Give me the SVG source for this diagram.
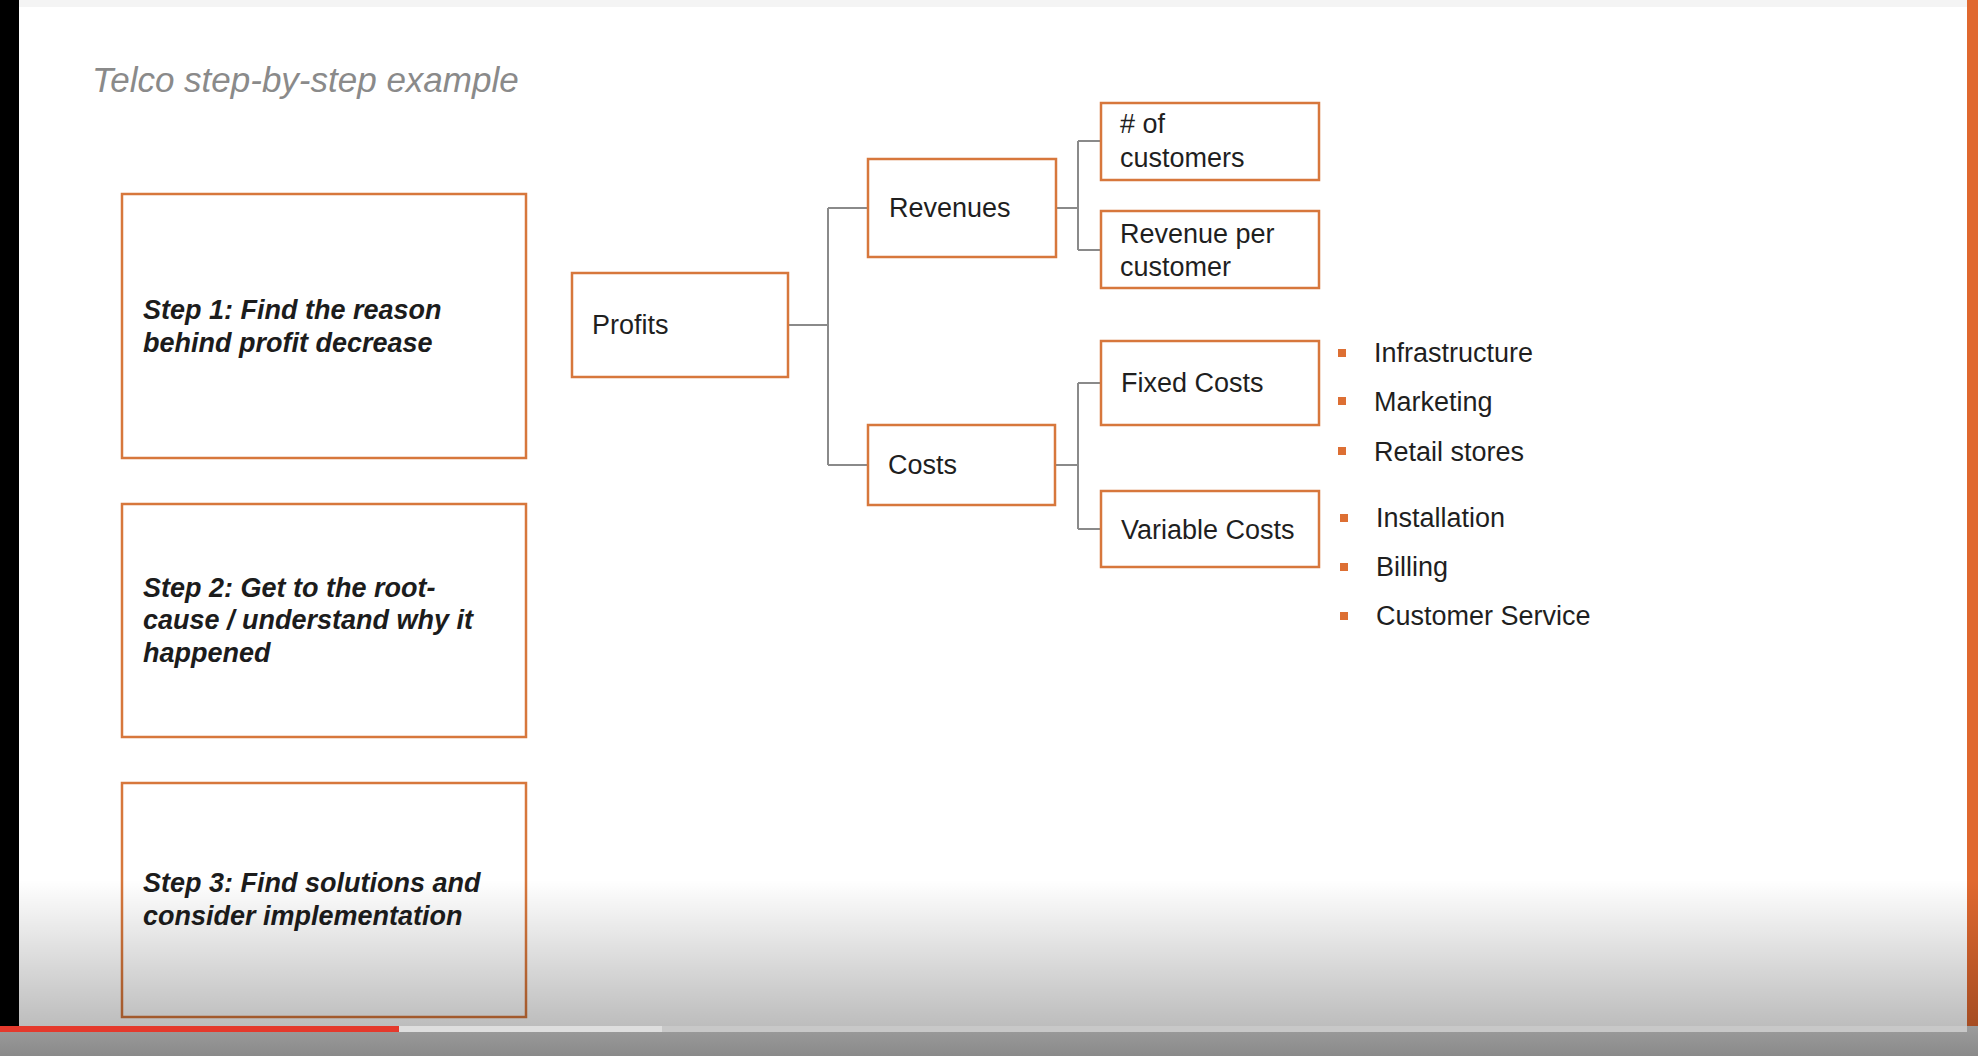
<svg xmlns="http://www.w3.org/2000/svg" width="1978" height="1056" viewBox="0 0 1978 1056">
<defs>
<style>
.box{fill:#ffffff;stroke:#d7773c;stroke-width:2.5}
.step{font-family:"Liberation Sans",Arial,sans-serif;font-size:27px;font-weight:bold;font-style:italic;fill:#1c1c1c}
.lbl{font-family:"Liberation Sans",Arial,sans-serif;font-size:27px;fill:#1f1f1f}
.conn{fill:none;stroke:#8a8a8a;stroke-width:2}
.bul{fill:#dd6f33}
</style>
<linearGradient id="shade" x1="0" y1="0" x2="0" y2="1">
<stop offset="0" stop-color="#000" stop-opacity="0"/>
<stop offset="1" stop-color="#000" stop-opacity="0.26"/>
</linearGradient>
<linearGradient id="bottom" x1="0" y1="0" x2="0" y2="1">
<stop offset="0" stop-color="#9c9c9c"/>
<stop offset="1" stop-color="#8a8a8a"/>
</linearGradient>
</defs>
<rect x="0" y="0" width="1978" height="1056" fill="#ffffff"/>
<rect x="0" y="0" width="1978" height="7" fill="#f4f4f4"/>
<text x="92" y="92" font-family="Liberation Sans, Arial, sans-serif" font-size="35" font-style="italic" fill="#8a8a8a">Telco step-by-step example</text>

<g id="step1"><rect class="box" x="122" y="194" width="404" height="264"/>
<text class="step" x="143" y="319">Step 1: Find the reason</text>
<text class="step" x="143" y="352">behind profit decrease</text></g>
<g id="step2"><rect class="box" x="122" y="504" width="404" height="233"/>
<text class="step" x="143" y="597">Step 2: Get to the root-</text>
<text class="step" x="143" y="629">cause / understand why it</text>
<text class="step" x="143" y="662">happened</text></g>
<g id="step3"><rect class="box" x="122" y="783" width="404" height="234"/>
<text class="step" x="143" y="892">Step 3: Find solutions and</text>
<text class="step" x="143" y="925">consider implementation</text></g>

<g id="connectors">
<path class="conn" d="M788 325 H828 M828 208 V465 M828 208 H868 M828 465 H868"/>
<path class="conn" d="M1056 208 H1078 M1078 141 V250 M1078 141 H1101 M1078 250 H1101"/>
<path class="conn" d="M1055 465 H1078 M1078 383 V529 M1078 383 H1101 M1078 529 H1101"/>
</g>

<g id="profits"><rect class="box" x="572" y="273" width="216" height="104"/>
<text class="lbl" x="592" y="334">Profits</text></g>
<g id="revenues"><rect class="box" x="868" y="159" width="188" height="98"/>
<text class="lbl" x="889" y="217">Revenues</text></g>
<g id="costs"><rect class="box" x="868" y="425" width="187" height="80"/>
<text class="lbl" x="888" y="474">Costs</text></g>
<g id="customers"><rect class="box" x="1101" y="103" width="218" height="77"/>
<text class="lbl" x="1120" y="133"># of</text>
<text class="lbl" x="1120" y="167">customers</text></g>
<g id="revpercust"><rect class="box" x="1101" y="211" width="218" height="77"/>
<text class="lbl" x="1120" y="243">Revenue per</text>
<text class="lbl" x="1120" y="276">customer</text></g>
<g id="fixed"><rect class="box" x="1101" y="341" width="218" height="84"/>
<text class="lbl" x="1121" y="392">Fixed Costs</text></g>
<g id="variable"><rect class="box" x="1101" y="491" width="218" height="76"/>
<text class="lbl" x="1121" y="539">Variable Costs</text></g>

<g id="fixed-list">
<rect class="bul" x="1338" y="349" width="8" height="8"/><text class="lbl" x="1374" y="362">Infrastructure</text>
<rect class="bul" x="1338" y="397" width="8" height="8"/><text class="lbl" x="1374" y="411">Marketing</text>
<rect class="bul" x="1338" y="447" width="8" height="8"/><text class="lbl" x="1374" y="461">Retail stores</text>
</g>
<g id="variable-list">
<rect class="bul" x="1340" y="514" width="8" height="8"/><text class="lbl" x="1376" y="527">Installation</text>
<rect class="bul" x="1340" y="563" width="8" height="8"/><text class="lbl" x="1376" y="576">Billing</text>
<rect class="bul" x="1340" y="612" width="8" height="8"/><text class="lbl" x="1376" y="625">Customer Service</text>
</g>

<rect x="1967" y="0" width="11" height="1056" fill="#e0682f"/>
<rect x="0" y="0" width="19" height="1056" fill="#000000"/>
<rect x="19" y="880" width="1959" height="146" fill="url(#shade)"/>
<rect x="0" y="1026" width="1978" height="30" fill="url(#bottom)"/>
<rect x="0" y="1026" width="1967" height="6" fill="#c8c8c8"/>
<rect x="399" y="1026" width="263" height="6" fill="#dedede"/>
<rect x="0" y="1026" width="399" height="6" fill="#e5392c"/>
</svg>
